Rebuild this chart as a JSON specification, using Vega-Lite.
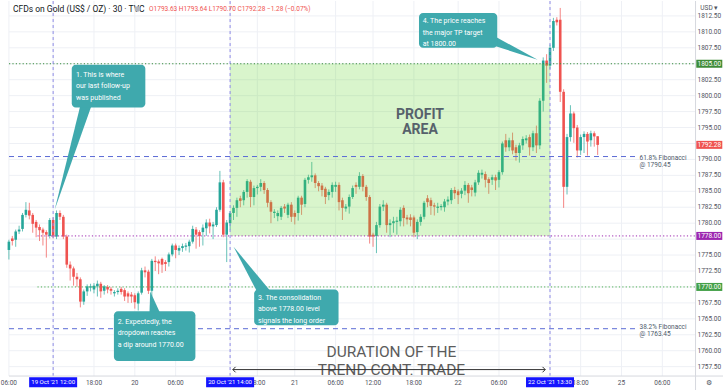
{
"$schema":"https://vega.github.io/schema/vega-lite/v6.json",
"width":728,"height":391,
"autosize":{"type":"fit","contains":"padding"},
"padding":0,
"background":"#ffffff",
"config":{"view":{"stroke":null},"text":{"font":"Roboto"}},
"datasets":{"candles":[
{"i":0,"o":1775.8,"h":1777.4,"l":1774.3,"c":1777.1},
{"i":1,"o":1777.6,"h":1778.0,"l":1776.5,"c":1777.2},
{"i":2,"o":1777.4,"h":1779.0,"l":1776.3,"c":1778.7},
{"i":3,"o":1778.7,"h":1779.6,"l":1778.3,"c":1779.0},
{"i":4,"o":1779.1,"h":1781.6,"l":1778.7,"c":1781.3},
{"i":5,"o":1781.3,"h":1783.3,"l":1780.9,"c":1782.1},
{"i":6,"o":1782.0,"h":1783.2,"l":1780.6,"c":1781.2},
{"i":7,"o":1781.3,"h":1781.6,"l":1778.5,"c":1779.9},
{"i":8,"o":1780.2,"h":1780.5,"l":1777.8,"c":1779.3},
{"i":9,"o":1779.4,"h":1779.8,"l":1777.2,"c":1778.9},
{"i":10,"o":1779.0,"h":1779.3,"l":1776.5,"c":1778.5},
{"i":11,"o":1778.6,"h":1778.9,"l":1774.6,"c":1778.2},
{"i":12,"o":1778.0,"h":1780.8,"l":1777.6,"c":1780.5},
{"i":13,"o":1780.5,"h":1780.9,"l":1777.6,"c":1777.9},
{"i":14,"o":1777.9,"h":1782.0,"l":1777.5,"c":1781.6},
{"i":15,"o":1781.6,"h":1782.0,"l":1780.5,"c":1781.0},
{"i":16,"o":1781.0,"h":1781.3,"l":1777.5,"c":1777.9},
{"i":17,"o":1777.9,"h":1778.2,"l":1773.0,"c":1773.5},
{"i":18,"o":1773.5,"h":1774.0,"l":1771.0,"c":1772.9},
{"i":19,"o":1772.9,"h":1773.2,"l":1770.2,"c":1771.6},
{"i":20,"o":1771.6,"h":1772.2,"l":1770.0,"c":1771.2},
{"i":21,"o":1771.2,"h":1771.5,"l":1766.8,"c":1767.7},
{"i":22,"o":1767.7,"h":1769.6,"l":1767.2,"c":1769.3},
{"i":23,"o":1769.3,"h":1770.4,"l":1768.6,"c":1770.1},
{"i":24,"o":1769.9,"h":1770.5,"l":1769.3,"c":1770.1},
{"i":25,"o":1769.6,"h":1770.6,"l":1769.0,"c":1770.2},
{"i":26,"o":1770.1,"h":1771.0,"l":1768.5,"c":1770.5},
{"i":27,"o":1770.5,"h":1770.8,"l":1768.3,"c":1769.3},
{"i":28,"o":1769.4,"h":1770.3,"l":1768.8,"c":1770.1},
{"i":29,"o":1770.0,"h":1770.3,"l":1769.0,"c":1769.6},
{"i":30,"o":1769.7,"h":1770.0,"l":1768.8,"c":1769.4},
{"i":31,"o":1769.0,"h":1769.5,"l":1768.5,"c":1769.2},
{"i":32,"o":1769.2,"h":1769.8,"l":1768.8,"c":1769.4},
{"i":33,"o":1769.7,"h":1770.0,"l":1768.8,"c":1769.2},
{"i":34,"o":1769.5,"h":1769.8,"l":1767.8,"c":1768.5},
{"i":35,"o":1769.0,"h":1769.3,"l":1767.5,"c":1768.5},
{"i":36,"o":1768.8,"h":1769.2,"l":1767.5,"c":1768.5},
{"i":37,"o":1768.7,"h":1769.0,"l":1766.6,"c":1767.6},
{"i":38,"o":1767.4,"h":1769.3,"l":1766.3,"c":1769.0},
{"i":39,"o":1769.1,"h":1773.0,"l":1768.8,"c":1772.6},
{"i":40,"o":1772.6,"h":1773.2,"l":1771.5,"c":1772.3},
{"i":41,"o":1772.4,"h":1772.7,"l":1768.9,"c":1769.4},
{"i":42,"o":1769.4,"h":1774.4,"l":1768.5,"c":1774.1},
{"i":43,"o":1774.1,"h":1774.8,"l":1772.5,"c":1773.9},
{"i":44,"o":1774.0,"h":1774.3,"l":1772.0,"c":1773.7},
{"i":45,"o":1774.4,"h":1774.6,"l":1772.2,"c":1773.5},
{"i":46,"o":1773.9,"h":1774.2,"l":1772.5,"c":1773.6},
{"i":47,"o":1773.9,"h":1775.4,"l":1773.2,"c":1775.1},
{"i":48,"o":1775.1,"h":1776.8,"l":1774.8,"c":1776.5},
{"i":49,"o":1776.5,"h":1776.8,"l":1774.5,"c":1775.8},
{"i":50,"o":1775.7,"h":1776.5,"l":1775.0,"c":1776.1},
{"i":51,"o":1776.1,"h":1776.8,"l":1775.5,"c":1776.4},
{"i":52,"o":1776.3,"h":1776.9,"l":1775.7,"c":1776.5},
{"i":53,"o":1776.4,"h":1777.4,"l":1775.4,"c":1777.1},
{"i":54,"o":1777.1,"h":1779.6,"l":1776.8,"c":1779.1},
{"i":55,"o":1779.0,"h":1779.4,"l":1776.0,"c":1778.2},
{"i":56,"o":1778.6,"h":1778.9,"l":1776.3,"c":1778.0},
{"i":57,"o":1778.6,"h":1779.8,"l":1776.5,"c":1779.3},
{"i":58,"o":1779.2,"h":1780.6,"l":1778.0,"c":1780.1},
{"i":59,"o":1780.1,"h":1780.7,"l":1778.4,"c":1779.5},
{"i":60,"o":1779.5,"h":1780.2,"l":1777.5,"c":1779.8},
{"i":61,"o":1779.7,"h":1782.5,"l":1779.4,"c":1782.1},
{"i":62,"o":1782.1,"h":1788.2,"l":1781.8,"c":1786.4},
{"i":63,"o":1786.4,"h":1786.8,"l":1777.8,"c":1778.2},
{"i":64,"o":1778.2,"h":1780.5,"l":1773.9,"c":1780.1},
{"i":65,"o":1780.0,"h":1781.9,"l":1779.0,"c":1781.6},
{"i":66,"o":1781.6,"h":1782.8,"l":1780.5,"c":1782.4},
{"i":67,"o":1782.4,"h":1784.0,"l":1781.0,"c":1783.6},
{"i":68,"o":1783.9,"h":1784.3,"l":1782.5,"c":1783.5},
{"i":69,"o":1783.6,"h":1785.2,"l":1782.8,"c":1784.9},
{"i":70,"o":1784.9,"h":1786.9,"l":1784.0,"c":1786.6},
{"i":71,"o":1786.5,"h":1786.8,"l":1782.5,"c":1784.1},
{"i":72,"o":1784.1,"h":1785.9,"l":1782.8,"c":1785.5},
{"i":73,"o":1785.5,"h":1786.0,"l":1784.5,"c":1785.7},
{"i":74,"o":1785.7,"h":1786.9,"l":1785.0,"c":1786.3},
{"i":75,"o":1786.3,"h":1786.6,"l":1784.6,"c":1785.2},
{"i":76,"o":1785.2,"h":1785.5,"l":1782.5,"c":1783.2},
{"i":77,"o":1783.3,"h":1783.6,"l":1780.0,"c":1781.8},
{"i":78,"o":1781.6,"h":1782.2,"l":1780.8,"c":1781.8},
{"i":79,"o":1781.1,"h":1782.0,"l":1780.3,"c":1781.6},
{"i":80,"o":1781.0,"h":1782.7,"l":1780.5,"c":1782.4},
{"i":81,"o":1782.6,"h":1783.0,"l":1781.6,"c":1782.3},
{"i":82,"o":1781.3,"h":1783.2,"l":1780.8,"c":1782.9},
{"i":83,"o":1782.9,"h":1783.3,"l":1780.2,"c":1781.0},
{"i":84,"o":1781.6,"h":1782.0,"l":1779.8,"c":1781.0},
{"i":85,"o":1781.6,"h":1784.3,"l":1780.4,"c":1784.0},
{"i":86,"o":1784.0,"h":1784.3,"l":1781.3,"c":1782.9},
{"i":87,"o":1783.0,"h":1787.1,"l":1782.5,"c":1786.8},
{"i":88,"o":1786.8,"h":1787.6,"l":1786.2,"c":1787.2},
{"i":89,"o":1787.2,"h":1789.6,"l":1786.5,"c":1787.5},
{"i":90,"o":1787.5,"h":1787.8,"l":1785.5,"c":1786.3},
{"i":91,"o":1786.3,"h":1786.6,"l":1785.0,"c":1785.8},
{"i":92,"o":1785.9,"h":1786.3,"l":1784.2,"c":1785.2},
{"i":93,"o":1785.4,"h":1785.7,"l":1783.0,"c":1784.1},
{"i":94,"o":1784.4,"h":1785.3,"l":1783.6,"c":1784.9},
{"i":95,"o":1784.9,"h":1786.4,"l":1784.0,"c":1786.0},
{"i":96,"o":1785.7,"h":1786.5,"l":1784.9,"c":1786.0},
{"i":97,"o":1786.0,"h":1786.4,"l":1782.0,"c":1783.3},
{"i":98,"o":1783.6,"h":1784.0,"l":1780.5,"c":1782.4},
{"i":99,"o":1782.3,"h":1783.0,"l":1781.8,"c":1782.6},
{"i":100,"o":1782.6,"h":1784.5,"l":1781.5,"c":1784.1},
{"i":101,"o":1784.1,"h":1785.9,"l":1783.8,"c":1785.5},
{"i":102,"o":1786.0,"h":1786.4,"l":1784.6,"c":1785.7},
{"i":103,"o":1785.7,"h":1788.0,"l":1785.3,"c":1787.4},
{"i":104,"o":1787.4,"h":1787.7,"l":1785.0,"c":1785.7},
{"i":105,"o":1785.7,"h":1786.0,"l":1783.5,"c":1784.1},
{"i":106,"o":1784.1,"h":1784.4,"l":1776.8,"c":1777.9},
{"i":107,"o":1778.2,"h":1778.5,"l":1776.3,"c":1777.9},
{"i":108,"o":1778.0,"h":1780.2,"l":1775.3,"c":1779.7},
{"i":109,"o":1779.7,"h":1783.0,"l":1779.3,"c":1782.6},
{"i":110,"o":1782.6,"h":1783.6,"l":1781.9,"c":1782.9},
{"i":111,"o":1782.9,"h":1783.2,"l":1778.5,"c":1779.7},
{"i":112,"o":1779.7,"h":1780.6,"l":1777.8,"c":1780.0},
{"i":113,"o":1780.0,"h":1781.0,"l":1778.5,"c":1780.3},
{"i":114,"o":1780.2,"h":1781.0,"l":1778.2,"c":1780.4},
{"i":115,"o":1780.3,"h":1782.5,"l":1779.5,"c":1782.1},
{"i":116,"o":1782.4,"h":1782.8,"l":1779.5,"c":1780.8},
{"i":117,"o":1780.9,"h":1781.3,"l":1779.8,"c":1780.6},
{"i":118,"o":1780.9,"h":1781.4,"l":1779.5,"c":1780.5},
{"i":119,"o":1780.9,"h":1781.2,"l":1777.8,"c":1778.5},
{"i":120,"o":1778.6,"h":1780.6,"l":1777.5,"c":1780.2},
{"i":121,"o":1780.2,"h":1781.4,"l":1779.6,"c":1781.0},
{"i":122,"o":1781.0,"h":1783.5,"l":1780.6,"c":1783.2},
{"i":123,"o":1783.9,"h":1784.4,"l":1782.5,"c":1783.3},
{"i":124,"o":1783.6,"h":1784.0,"l":1781.3,"c":1782.7},
{"i":125,"o":1782.8,"h":1783.2,"l":1781.2,"c":1782.6},
{"i":126,"o":1782.4,"h":1783.2,"l":1781.6,"c":1782.6},
{"i":127,"o":1782.5,"h":1783.0,"l":1782.0,"c":1782.7},
{"i":128,"o":1782.5,"h":1783.8,"l":1781.8,"c":1783.4},
{"i":129,"o":1783.4,"h":1784.2,"l":1782.8,"c":1783.7},
{"i":130,"o":1783.6,"h":1785.5,"l":1783.0,"c":1785.2},
{"i":131,"o":1785.2,"h":1785.7,"l":1783.8,"c":1784.7},
{"i":132,"o":1785.0,"h":1785.3,"l":1783.0,"c":1784.4},
{"i":133,"o":1784.6,"h":1785.5,"l":1783.9,"c":1785.1},
{"i":134,"o":1785.1,"h":1786.6,"l":1784.4,"c":1786.0},
{"i":135,"o":1786.0,"h":1786.3,"l":1783.2,"c":1784.7},
{"i":136,"o":1785.6,"h":1786.0,"l":1784.2,"c":1785.2},
{"i":137,"o":1784.8,"h":1786.8,"l":1784.2,"c":1786.4},
{"i":138,"o":1786.4,"h":1788.3,"l":1786.0,"c":1787.9},
{"i":139,"o":1787.6,"h":1788.4,"l":1787.0,"c":1787.9},
{"i":140,"o":1787.7,"h":1788.1,"l":1785.6,"c":1786.8},
{"i":141,"o":1786.9,"h":1787.2,"l":1784.6,"c":1786.3},
{"i":142,"o":1786.8,"h":1787.6,"l":1786.0,"c":1787.2},
{"i":143,"o":1787.2,"h":1787.6,"l":1785.2,"c":1786.7},
{"i":144,"o":1786.8,"h":1788.3,"l":1785.6,"c":1788.0},
{"i":145,"o":1788.0,"h":1792.8,"l":1787.6,"c":1792.5},
{"i":146,"o":1793.0,"h":1794.0,"l":1791.2,"c":1791.9},
{"i":147,"o":1791.9,"h":1793.4,"l":1791.3,"c":1793.0},
{"i":148,"o":1793.0,"h":1794.2,"l":1790.8,"c":1791.4},
{"i":149,"o":1791.9,"h":1792.3,"l":1789.8,"c":1791.0},
{"i":150,"o":1791.0,"h":1792.6,"l":1789.5,"c":1792.2},
{"i":151,"o":1792.2,"h":1793.6,"l":1791.5,"c":1793.2},
{"i":152,"o":1793.0,"h":1793.8,"l":1792.5,"c":1793.3},
{"i":153,"o":1793.5,"h":1793.9,"l":1790.6,"c":1791.9},
{"i":154,"o":1791.9,"h":1794.5,"l":1791.3,"c":1794.1},
{"i":155,"o":1794.1,"h":1795.3,"l":1791.0,"c":1792.2},
{"i":156,"o":1792.2,"h":1799.6,"l":1791.6,"c":1799.2},
{"i":157,"o":1799.2,"h":1806.0,"l":1797.5,"c":1805.5},
{"i":158,"o":1805.5,"h":1806.5,"l":1802.0,"c":1804.7},
{"i":159,"o":1804.7,"h":1808.0,"l":1804.2,"c":1807.5},
{"i":160,"o":1807.5,"h":1812.2,"l":1807.0,"c":1811.7},
{"i":161,"o":1811.9,"h":1812.3,"l":1811.0,"c":1811.5},
{"i":162,"o":1811.9,"h":1813.75,"l":1799.0,"c":1800.6},
{"i":163,"o":1800.6,"h":1801.0,"l":1782.4,"c":1785.7},
{"i":164,"o":1785.7,"h":1794.0,"l":1784.5,"c":1793.5},
{"i":165,"o":1793.5,"h":1798.5,"l":1792.8,"c":1797.2},
{"i":166,"o":1797.2,"h":1797.5,"l":1792.6,"c":1794.9},
{"i":167,"o":1795.0,"h":1795.4,"l":1790.3,"c":1791.4},
{"i":168,"o":1791.4,"h":1793.9,"l":1790.7,"c":1793.5},
{"i":169,"o":1793.5,"h":1794.4,"l":1791.0,"c":1794.0},
{"i":170,"o":1794.0,"h":1794.3,"l":1790.6,"c":1792.8},
{"i":171,"o":1793.0,"h":1794.5,"l":1792.0,"c":1794.1},
{"i":172,"o":1794.1,"h":1794.4,"l":1792.0,"c":1793.6},
{"i":173,"o":1793.63,"h":1793.64,"l":1790.7,"c":1792.28}
]},
"layer":[
{"data":{"values":[{"p":1757.5},{"p":1760},{"p":1762.5},{"p":1765},{"p":1767.5},{"p":1770},{"p":1772.5},{"p":1775},{"p":1777.5},{"p":1780},{"p":1782.5},{"p":1785},{"p":1787.5},{"p":1790},{"p":1792.5},{"p":1795},{"p":1797.5},{"p":1800},{"p":1802.5},{"p":1805},{"p":1807.5},{"p":1810},{"p":1812.5}]},
 "mark":{"type":"rule","color":"#eef0f5","strokeWidth":1},
 "encoding":{"x":{"datum":0.03,"type":"quantitative","scale":{"domain":[0.03,209.83],"nice":false,"zero":false},"axis":null},"x2":{"datum":201.76},"y":{"field":"p","type":"quantitative","scale":{"domain":[1753.84,1814.84],"nice":false,"zero":false},"axis":null}}},
{"data":{"values":[{"i":0},{"i":13},{"i":25},{"i":37},{"i":49},{"i":65},{"i":73},{"i":84},{"i":96},{"i":107},{"i":119},{"i":132},{"i":144},{"i":159},{"i":168},{"i":180},{"i":192}]},
 "mark":{"type":"rule","color":"#eef0f5","strokeWidth":1},
 "encoding":{"x":{"field":"i","type":"quantitative","scale":{"domain":[0.03,209.83],"nice":false,"zero":false},"axis":null},"y":{"datum":1756.03,"type":"quantitative","scale":{"domain":[1753.84,1814.84],"nice":false,"zero":false},"axis":null},"y2":{"datum":1814.84}}},
{"data":{"name":"candles"},
 "mark":{"type":"rule","strokeWidth":1,"opacity":0.7},
 "encoding":{"x":{"field":"i","type":"quantitative","scale":{"domain":[0.03,209.83],"nice":false,"zero":false},"axis":null},"y":{"field":"l","type":"quantitative","scale":{"domain":[1753.84,1814.84],"nice":false,"zero":false},"axis":null},"y2":{"field":"h"},"color":{"condition":{"test":"datum.c>=datum.o","value":"#26a69a"},"value":"#ef5350"}}},
{"data":{"name":"candles"},
 "mark":{"type":"bar"},
 "encoding":{"x":{"field":"i","type":"quantitative","scale":{"domain":[0.03,209.83],"nice":false,"zero":false},"axis":null},"y":{"field":"o","type":"quantitative","scale":{"domain":[1753.84,1814.84],"nice":false,"zero":false},"axis":null},"y2":{"field":"c"},"size":{"value":2.6},"color":{"condition":{"test":"datum.c>=datum.o","value":"#26a69a"},"value":"#ef5350"}}},
{"data":{"values":[{"a":65,"b":159,"lo":1778,"hi":1805}]},
 "mark":{"type":"rect","color":"#62d62a","opacity":0.24},
 "encoding":{"x":{"field":"a","type":"quantitative","scale":{"domain":[0.03,209.83],"nice":false,"zero":false},"axis":null},"x2":{"field":"b"},"y":{"field":"lo","type":"quantitative","scale":{"domain":[1753.84,1814.84],"nice":false,"zero":false},"axis":null},"y2":{"field":"hi"}}},
{"data":{"values":[{"p":1805,"a":0.03,"b":201.76}]},
 "mark":{"type":"rule","color":"#388e3c","strokeDash":[1.2,2.2],"strokeWidth":1},
 "encoding":{"x":{"field":"a","type":"quantitative","scale":{"domain":[0.03,209.83],"nice":false,"zero":false},"axis":null},"x2":{"field":"b"},"y":{"field":"p","type":"quantitative","scale":{"domain":[1753.84,1814.84],"nice":false,"zero":false},"axis":null}}},
{"data":{"values":[{"p":1778,"a":8.4,"b":201.76}]},
 "mark":{"type":"rule","color":"#9c27b0","strokeDash":[1.2,2.2],"strokeWidth":1},
 "encoding":{"x":{"field":"a","type":"quantitative","scale":{"domain":[0.03,209.83],"nice":false,"zero":false},"axis":null},"x2":{"field":"b"},"y":{"field":"p","type":"quantitative","scale":{"domain":[1753.84,1814.84],"nice":false,"zero":false},"axis":null}}},
{"data":{"values":[{"p":1770,"a":8.4,"b":201.76}]},
 "mark":{"type":"rule","color":"#4caf50","strokeDash":[1.2,2.2],"strokeWidth":1},
 "encoding":{"x":{"field":"a","type":"quantitative","scale":{"domain":[0.03,209.83],"nice":false,"zero":false},"axis":null},"x2":{"field":"b"},"y":{"field":"p","type":"quantitative","scale":{"domain":[1753.84,1814.84],"nice":false,"zero":false},"axis":null}}},
{"data":{"values":[{"p":1790.45,"a":0.03,"b":184.5},{"p":1763.45,"a":0.03,"b":184.5}]},
 "mark":{"type":"rule","color":"#5b6bd5","strokeDash":[5,4],"strokeWidth":1},
 "encoding":{"x":{"field":"a","type":"quantitative","scale":{"domain":[0.03,209.83],"nice":false,"zero":false},"axis":null},"x2":{"field":"b"},"y":{"field":"p","type":"quantitative","scale":{"domain":[1753.84,1814.84],"nice":false,"zero":false},"axis":null}}},
{"data":{"values":[{"i":13},{"i":65},{"i":159}]},
 "mark":{"type":"rule","color":"#8f8ce6","strokeDash":[3,3],"strokeWidth":1},
 "encoding":{"x":{"field":"i","type":"quantitative","scale":{"domain":[0.03,209.83],"nice":false,"zero":false},"axis":null},"y":{"datum":1756.03,"type":"quantitative","scale":{"domain":[1753.84,1814.84],"nice":false,"zero":false},"axis":null},"y2":{"datum":1814.84}}},
{"data":{"values":[{"i":185.3,"p":1790.19,"t":"61.8% Fibonacci\n@ 1790.45"},{"i":185.3,"p":1763.67,"t":"38.2% Fibonacci\n@ 1763.45"}]},
 "mark":{"type":"text","align":"left","baseline":"middle","fontSize":6.5,"lineHeight":7,"lineBreak":"\n","color":"#4e5a6b"},
 "encoding":{"x":{"field":"i","type":"quantitative","scale":{"domain":[0.03,209.83],"nice":false,"zero":false},"axis":null},"y":{"field":"p","type":"quantitative","scale":{"domain":[1753.84,1814.84],"nice":false,"zero":false},"axis":null},"text":{"field":"t"}}},
{"data":{"values":[{"p":1782.08,"a":13.43,"b":13.43},{"p":1799.24,"a":21.35,"b":24.81}]},
 "mark":{"type":"area","orient":"horizontal","color":"#3fa9ad"},
 "encoding":{"y":{"field":"p","type":"quantitative","scale":{"domain":[1753.84,1814.84],"nice":false,"zero":false},"axis":null},"x":{"field":"a","type":"quantitative","scale":{"domain":[0.03,209.83],"nice":false,"zero":false},"axis":null},"x2":{"field":"b"}}},
{"data":{"values":[{"p":1764.92,"a":41.24,"b":45.27},{"p":1769.29,"a":41.53,"b":41.53}]},
 "mark":{"type":"area","orient":"horizontal","color":"#3fa9ad"},
 "encoding":{"y":{"field":"p","type":"quantitative","scale":{"domain":[1753.84,1814.84],"nice":false,"zero":false},"axis":null},"x":{"field":"a","type":"quantitative","scale":{"domain":[0.03,209.83],"nice":false,"zero":false},"axis":null},"x2":{"field":"b"}}},
{"data":{"values":[{"p":1768.35,"a":73.8,"b":78.4},{"p":1776.31,"a":66.02,"b":66.02}]},
 "mark":{"type":"area","orient":"horizontal","color":"#3fa9ad"},
 "encoding":{"y":{"field":"p","type":"quantitative","scale":{"domain":[1753.84,1814.84],"nice":false,"zero":false},"axis":null},"x":{"field":"a","type":"quantitative","scale":{"domain":[0.03,209.83],"nice":false,"zero":false},"axis":null},"x2":{"field":"b"}}},
{"data":{"values":[{"i":139.8,"lo":1808.29,"hi":1810.16},{"i":155.36,"lo":1805.64,"hi":1805.64}]},
 "mark":{"type":"area","orient":"vertical","color":"#3fa9ad"},
 "encoding":{"x":{"field":"i","type":"quantitative","scale":{"domain":[0.03,209.83],"nice":false,"zero":false},"axis":null},"y":{"field":"lo","type":"quantitative","scale":{"domain":[1753.84,1814.84],"nice":false,"zero":false},"axis":null},"y2":{"field":"hi"}}},
{"data":{"values":[{"a":18.47,"b":40.09,"lo":1798.15,"hi":1804.86},{"a":30.86,"b":54.8,"lo":1758.37,"hi":1766.17},{"a":72.07,"b":96.86,"lo":1763.98,"hi":1769.6},{"a":120.5,"b":143.5,"lo":1807.5,"hi":1812.97}]},
 "mark":{"type":"rect","color":"#3fa9ad","cornerRadius":4},
 "encoding":{"x":{"field":"a","type":"quantitative","scale":{"domain":[0.03,209.83],"nice":false,"zero":false},"axis":null},"x2":{"field":"b"},"y":{"field":"lo","type":"quantitative","scale":{"domain":[1753.84,1814.84],"nice":false,"zero":false},"axis":null},"y2":{"field":"hi"}}},
{"data":{"values":[{"i":19.7,"p":1803.9,"t":"1. This is where\nour last follow-up\nwas published"},{"i":32.0,"p":1765.2,"t":"2. Expectedly, the\ndropdown reaches\na dip around 1770.00"},{"i":73.2,"p":1768.9,"t":"3. The consolidation\nabove 1778.00 level\nsignals the long order"},{"i":121.6,"p":1812.3,"t":"4. The price reaches\nthe major TP target\nat 1800.00"}]},
 "mark":{"type":"text","align":"left","baseline":"top","fontSize":7,"lineHeight":11.5,"lineBreak":"\n","color":"#ffffff"},
 "encoding":{"x":{"field":"i","type":"quantitative","scale":{"domain":[0.03,209.83],"nice":false,"zero":false},"axis":null},"y":{"field":"p","type":"quantitative","scale":{"domain":[1753.84,1814.84],"nice":false,"zero":false},"axis":null},"text":{"field":"t"}}},
{"data":{"values":[{"i":120.8,"p":1797.0,"t":"PROFIT\nAREA"}]},
 "mark":{"type":"text","align":"center","baseline":"middle","fontSize":14,"fontWeight":"bold","lineHeight":15,"lineBreak":"\n","color":"#56616b"},
 "encoding":{"x":{"field":"i","type":"quantitative","scale":{"domain":[0.03,209.83],"nice":false,"zero":false},"axis":null},"y":{"field":"p","type":"quantitative","scale":{"domain":[1753.84,1814.84],"nice":false,"zero":false},"axis":null},"text":{"field":"t"}}},
{"data":{"values":[{"i":112.4,"p":1759.85,"t":"DURATION OF THE\nTREND CONT. TRADE"}]},
 "mark":{"type":"text","align":"center","baseline":"middle","fontSize":15.5,"lineHeight":18,"lineBreak":"\n","color":"#5c5c5c"},
 "encoding":{"x":{"field":"i","type":"quantitative","scale":{"domain":[0.03,209.83],"nice":false,"zero":false},"axis":null},"y":{"field":"p","type":"quantitative","scale":{"domain":[1753.84,1814.84],"nice":false,"zero":false},"axis":null},"text":{"field":"t"}}},
{"data":{"values":[{"a":65.8,"b":157.6,"p":1757.04}]},
 "mark":{"type":"rule","color":"#333333","strokeWidth":1},
 "encoding":{"x":{"field":"a","type":"quantitative","scale":{"domain":[0.03,209.83],"nice":false,"zero":false},"axis":null},"x2":{"field":"b"},"y":{"field":"p","type":"quantitative","scale":{"domain":[1753.84,1814.84],"nice":false,"zero":false},"axis":null}}},
{"data":{"values":[{"i":65.8,"p":1757.04}]},
 "mark":{"type":"point","shape":"M1,-1L0,0L1,1","filled":false,"color":"#333333","strokeWidth":1,"size":30,"opacity":1},
 "encoding":{"x":{"field":"i","type":"quantitative","scale":{"domain":[0.03,209.83],"nice":false,"zero":false},"axis":null},"y":{"field":"p","type":"quantitative","scale":{"domain":[1753.84,1814.84],"nice":false,"zero":false},"axis":null}}},
{"data":{"values":[{"i":157.6,"p":1757.04}]},
 "mark":{"type":"point","shape":"M-1,-1L0,0L-1,1","filled":false,"color":"#333333","strokeWidth":1,"size":30,"opacity":1},
 "encoding":{"x":{"field":"i","type":"quantitative","scale":{"domain":[0.03,209.83],"nice":false,"zero":false},"axis":null},"y":{"field":"p","type":"quantitative","scale":{"domain":[1753.84,1814.84],"nice":false,"zero":false},"axis":null}}},
{"data":{"values":[{"a":0.03,"b":209.83,"p":1756.03}]},
 "mark":{"type":"rule","color":"#d6d8de","strokeWidth":1},
 "encoding":{"x":{"field":"a","type":"quantitative","scale":{"domain":[0.03,209.83],"nice":false,"zero":false},"axis":null},"x2":{"field":"b"},"y":{"field":"p","type":"quantitative","scale":{"domain":[1753.84,1814.84],"nice":false,"zero":false},"axis":null}}},
{"data":{"values":[{"i":201.76}]},
 "mark":{"type":"rule","color":"#d6d8de","strokeWidth":1},
 "encoding":{"x":{"field":"i","type":"quantitative","scale":{"domain":[0.03,209.83],"nice":false,"zero":false},"axis":null},"y":{"datum":1753.84,"type":"quantitative","scale":{"domain":[1753.84,1814.84],"nice":false,"zero":false},"axis":null},"y2":{"datum":1814.84}}},
{"data":{"values":[{"p":1812.5},{"p":1810},{"p":1807.5},{"p":1802.5},{"p":1800},{"p":1797.5},{"p":1795},{"p":1790},{"p":1787.5},{"p":1785},{"p":1782.5},{"p":1780},{"p":1775},{"p":1772.5},{"p":1767.5},{"p":1765},{"p":1762.5},{"p":1760},{"p":1757.5}]},
 "mark":{"type":"text","align":"center","baseline":"middle","fontSize":6.5,"color":"#50535e"},
 "encoding":{"x":{"datum":205.8,"type":"quantitative","scale":{"domain":[0.03,209.83],"nice":false,"zero":false},"axis":null},"y":{"field":"p","type":"quantitative","scale":{"domain":[1753.84,1814.84],"nice":false,"zero":false},"axis":null},"text":{"field":"p","format":".2f"}}},
{"data":{"values":[{"p":1805},{"p":1792.28},{"p":1778},{"p":1770}]},
 "mark":{"type":"tick","orient":"horizontal","thickness":8,"opacity":1},
 "encoding":{"x":{"datum":205.8,"type":"quantitative","scale":{"domain":[0.03,209.83],"nice":false,"zero":false},"axis":null},"y":{"field":"p","type":"quantitative","scale":{"domain":[1753.84,1814.84],"nice":false,"zero":false},"axis":null},"size":{"value":26},"color":{"field":"p","type":"nominal","scale":{"domain":[1805,1792.28,1778,1770],"range":["#3d8b37","#ef5350","#9c27b0","#43a047"]},"legend":null}}},
{"data":{"values":[{"p":1805},{"p":1792.28},{"p":1778},{"p":1770}]},
 "mark":{"type":"text","align":"center","baseline":"middle","fontSize":6.5,"color":"#ffffff"},
 "encoding":{"x":{"datum":205.8,"type":"quantitative","scale":{"domain":[0.03,209.83],"nice":false,"zero":false},"axis":null},"y":{"field":"p","type":"quantitative","scale":{"domain":[1753.84,1814.84],"nice":false,"zero":false},"axis":null},"text":{"field":"p","format":".2f"}}},
{"data":{"values":[{"i":0,"t":"06:00"},{"i":25,"t":"18:00"},{"i":37,"t":"20"},{"i":49,"t":"06:00"},{"i":73,"t":"18:00"},{"i":84,"t":"21"},{"i":96,"t":"06:00"},{"i":107,"t":"12:00"},{"i":119,"t":"18:00"},{"i":132,"t":"22"},{"i":144,"t":"06:00"},{"i":168,"t":"18:00"},{"i":180,"t":"25"},{"i":192,"t":"06:00"}]},
 "mark":{"type":"text","align":"center","baseline":"middle","fontSize":6.5,"color":"#50535e"},
 "encoding":{"x":{"field":"i","type":"quantitative","scale":{"domain":[0.03,209.83],"nice":false,"zero":false},"axis":null},"y":{"datum":1754.93,"type":"quantitative","scale":{"domain":[1753.84,1814.84],"nice":false,"zero":false},"axis":null},"text":{"field":"t"}}},
{"data":{"values":[{"i":13},{"i":65},{"i":159}]},
 "mark":{"type":"tick","orient":"horizontal","thickness":10,"color":"#1414ff","opacity":1},
 "encoding":{"x":{"field":"i","type":"quantitative","scale":{"domain":[0.03,209.83],"nice":false,"zero":false},"axis":null},"y":{"datum":1755.04,"type":"quantitative","scale":{"domain":[1753.84,1814.84],"nice":false,"zero":false},"axis":null},"size":{"value":48}}},
{"data":{"values":[{"i":13,"t":"19 Oct '21  12:00"},{"i":65,"t":"20 Oct '21  14:00"},{"i":159,"t":"22 Oct '21  13:30"}]},
 "mark":{"type":"text","align":"center","baseline":"middle","fontSize":6.1,"color":"#ffffff"},
 "encoding":{"x":{"field":"i","type":"quantitative","scale":{"domain":[0.03,209.83],"nice":false,"zero":false},"axis":null},"y":{"datum":1755.04,"type":"quantitative","scale":{"domain":[1753.84,1814.84],"nice":false,"zero":false},"axis":null},"text":{"field":"t"}}},
{"data":{"values":[{"i":1.18,"p":1813.59,"t":"CFDs on Gold (US$ / OZ) · 30 · TVC"}]},
 "mark":{"type":"text","align":"left","baseline":"middle","fontSize":8.5,"color":"#131722"},
 "encoding":{"x":{"field":"i","type":"quantitative","scale":{"domain":[0.03,209.83],"nice":false,"zero":false},"axis":null},"y":{"field":"p","type":"quantitative","scale":{"domain":[1753.84,1814.84],"nice":false,"zero":false},"axis":null},"text":{"field":"t"}}},
{"data":{"values":[{"i":37.8,"p":1813.59}]},
 "mark":{"type":"point","filled":true,"color":"#b2b5be","size":30,"opacity":1},
 "encoding":{"x":{"field":"i","type":"quantitative","scale":{"domain":[0.03,209.83],"nice":false,"zero":false},"axis":null},"y":{"field":"p","type":"quantitative","scale":{"domain":[1753.84,1814.84],"nice":false,"zero":false},"axis":null}}},
{"data":{"values":[{"i":41.2,"p":1813.59,"t":"O1793.63  H1793.64  L1790.70  C1792.28  −1.28 (−0.07%)"}]},
 "mark":{"type":"text","align":"left","baseline":"middle","fontSize":6.5,"color":"#ef5350"},
 "encoding":{"x":{"field":"i","type":"quantitative","scale":{"domain":[0.03,209.83],"nice":false,"zero":false},"axis":null},"y":{"field":"p","type":"quantitative","scale":{"domain":[1753.84,1814.84],"nice":false,"zero":false},"axis":null},"text":{"field":"t"}}},
{"data":{"values":[{"i":205.8,"p":1813.67,"t":"USD ▾"},{"i":205.8,"p":1754.93,"t":"⚙"}]},
 "mark":{"type":"text","align":"center","baseline":"middle","fontSize":6.5,"color":"#50535e"},
 "encoding":{"x":{"field":"i","type":"quantitative","scale":{"domain":[0.03,209.83],"nice":false,"zero":false},"axis":null},"y":{"field":"p","type":"quantitative","scale":{"domain":[1753.84,1814.84],"nice":false,"zero":false},"axis":null},"text":{"field":"t"}}}
]
}
